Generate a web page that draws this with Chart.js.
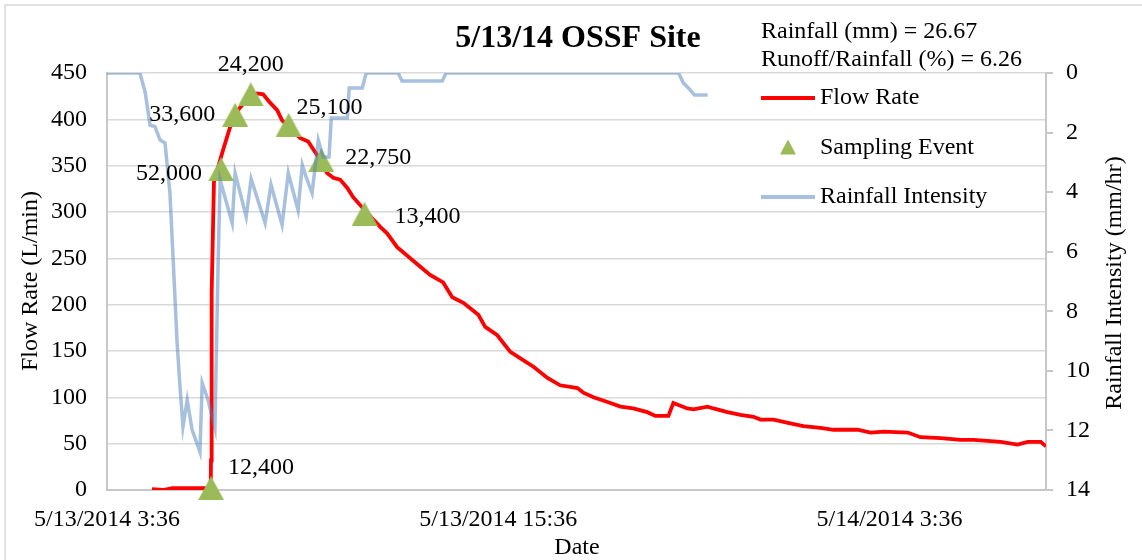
<!DOCTYPE html>
<html>
<head>
<meta charset="utf-8">
<script src="https://cdn.jsdelivr.net/npm/chart.js@4.4.1/dist/chart.umd.min.js"></script>
<style>
  html, body { margin: 0; padding: 0; background: #ffffff; }
</style>
</head>
<body>
<canvas id="chart" width="1142" height="560"></canvas>
<script>
// hours counted from 5/13/2014 00:00
const flowHours = [4.98, 5.32, 5.60, 6.24, 6.61, 6.78, 6.79, 6.81, 6.88, 7.07, 7.16, 7.38, 7.62, 7.90, 8.20, 8.39, 8.60, 8.82, 8.97, 9.52, 9.77, 10.05, 10.35, 10.54, 10.75, 10.97, 11.15, 11.58, 11.98, 12.19, 12.50, 13.21, 13.51, 13.91, 14.19, 14.53, 14.99, 15.20, 15.57, 15.97, 16.28, 16.68, 17.11, 17.50, 18.03, 18.21, 18.52, 18.95, 19.35, 19.74, 20.17, 20.42, 20.82, 20.97, 21.40, 21.59, 22.02, 22.20, 22.63, 23.03, 23.43, 23.64, 24.04, 24.56, 24.96, 25.48, 25.88, 26.62, 27.02, 27.42, 28.16, 28.55, 29.17, 29.78, 30.18, 31.01, 31.53, 31.84, 32.24, 32.40];
const flowRates = [1, 0, 2, 2, 2, 2, 32, 213, 332, 356, 367, 392, 410, 422, 428, 427, 418, 410, 399, 380, 376, 361, 342, 337, 335, 326, 316, 299, 284, 277, 262, 241, 232, 224, 208, 202, 189, 176, 167, 149, 142, 133, 121, 113, 110, 105, 100, 95, 90, 88, 84, 80, 80, 94, 88, 87, 90, 88, 84, 81, 79, 76, 76, 72, 69, 67, 65, 65, 62, 63, 62, 57, 56, 54, 54, 52, 49, 52, 52, 47];

const rainHours = [3.60, 4.61, 4.77, 4.92, 5.07, 5.23, 5.38, 5.53, 5.63, 5.75, 5.84, 5.93, 6.06, 6.21, 6.45, 6.52, 6.70, 6.91, 7.01, 7.07, 7.44, 7.53, 7.87, 8.02, 8.45, 8.63, 8.97, 9.16, 9.46, 9.59, 9.71, 9.89, 10.08, 10.23, 10.41, 10.48, 10.97, 11.03, 11.43, 11.55, 12.53, 12.65, 13.88, 14.00, 21.13, 21.28, 21.43, 21.62, 22.02];
const rainIntensity = [0, 0, 0.64, 1.75, 1.80, 2.25, 2.35, 4.03, 6.28, 9.06, 10.54, 11.88, 10.98, 11.98, 12.72, 10.41, 10.98, 11.92, 6.28, 3.59, 5.04, 3.36, 4.83, 3.55, 5.04, 3.75, 5.10, 3.36, 4.60, 3.09, 3.50, 4.03, 2.25, 2.82, 2.82, 1.51, 1.51, 0.50, 0.50, 0, 0, 0.27, 0.27, 0, 0, 0.34, 0.50, 0.74, 0.74];

const sampleHours = [6.79, 7.10, 7.53, 8.01, 9.17, 10.17, 11.50];
const sampleFlows = [2, 346, 405, 427, 394, 356, 298];
const sampleLabels = ["12,400", "52,000", "33,600", "24,200", "25,100", "22,750", "13,400"];

const xTickHours = [3.6, 15.6, 27.6];
const statLines = ["Rainfall (mm) = 26.67", "Runoff/Rainfall (%) = 6.26"];

const serif = "'Liberation Serif', 'Times New Roman', serif";
const red = "#ff0000";
const blue = "rgba(79, 129, 189, 0.5)";
const green = "#9bbb59";

// where each sample label sits relative to its marker: [dx, dy, align]
const labelPlacement = [
  [17, -20, "left"],
  [-19, 4, "right"],
  [-20, 0, "right"],
  [0, -30, "center"],
  [8, -17, "left"],
  [24, -2, "left"],
  [30, 3, "left"],
];

function triangleMarker(w, h, color) {
  const cv = document.createElement("canvas");
  cv.width = w;
  cv.height = h;
  const c = cv.getContext("2d");
  c.fillStyle = color;
  c.beginPath();
  c.moveTo(w / 2, 0);
  c.lineTo(w, h);
  c.lineTo(0, h);
  c.closePath();
  c.fill();
  return cv;
}

function hourLabel(v) {
  const day = 13 + Math.floor(v / 24);
  const rest = v - Math.floor(v / 24) * 24;
  const hr = Math.floor(rest + 1e-6);
  const min = Math.round((rest - hr) * 60);
  return `5/${day}/2014 ${hr}:${String(min).padStart(2, "0")}`;
}

const ctx = document.getElementById("chart").getContext("2d");

new Chart(ctx, {
  type: "line",
  data: {
    datasets: [
      {
        label: "Rainfall Intensity",
        data: rainHours.map((h, i) => ({ x: h, y: rainIntensity[i] })),
        yAxisID: "y1",
        borderColor: blue,
        borderWidth: 3.5,
        pointRadius: 0,
        fill: false,
        order: 0,
      },
      {
        label: "Sampling Event",
        type: "scatter",
        data: sampleHours.map((h, i) => ({ x: h, y: sampleFlows[i] })),
        yAxisID: "y",
        pointStyle: triangleMarker(26, 24, green),
        pointRadius: 13,
        backgroundColor: green,
        borderColor: green,
        borderWidth: 0,
        showLine: false,
        clip: false,
        order: 1,
      },
      {
        label: "Flow Rate",
        data: flowHours.map((h, i) => ({ x: h, y: flowRates[i] })),
        yAxisID: "y",
        borderColor: red,
        borderWidth: 3.8,
        pointRadius: 0,
        fill: false,
        order: 2,
      },
    ],
  },
  options: {
    responsive: false,
    animation: false,
    layout: { padding: { top: 73, left: 0, right: 0, bottom: 0 } },
    plugins: {
      legend: { display: false },
      title: { display: false },
      tooltip: { enabled: false },
    },
    scales: {
      x: {
        type: "linear",
        min: 3.6,
        max: 32.4,
        afterBuildTicks: (scale) => {
          scale.ticks = xTickHours.map((v) => ({ value: v }));
        },
        afterFit: (scale) => {
          scale.height = 70;
        },
        ticks: {
          callback: (v) => hourLabel(v),
          color: "#000000",
          padding: 15,
          maxRotation: 0,
          font: { family: serif, size: 24 },
        },
        grid: { drawOnChartArea: false, drawTicks: false },
        border: { color: "#c8c8c8", width: 2 },
      },
      y: {
        position: "left",
        min: 0,
        max: 450,
        afterFit: (scale) => {
          scale.width = 107;
        },
        ticks: {
          stepSize: 50,
          color: "#000000",
          padding: 20,
          font: { family: serif, size: 24 },
        },
        grid: { color: "#d9d9d9", lineWidth: 1.5, drawTicks: false },
        border: { color: "#c8c8c8", width: 2 },
      },
      y1: {
        position: "right",
        min: 0,
        max: 14,
        reverse: true,
        afterFit: (scale) => {
          scale.width = 96;
        },
        ticks: {
          stepSize: 2,
          color: "#000000",
          padding: 13,
          font: { family: serif, size: 24 },
        },
        grid: {
          drawOnChartArea: false,
          drawTicks: true,
          tickLength: 7,
          color: "#c8c8c8",
          lineWidth: 2,
        },
        border: { color: "#c8c8c8", width: 2 },
      },
    },
  },
  plugins: [
    {
      id: "background",
      beforeDraw: (chart) => {
        const c = chart.ctx;
        c.save();
        c.fillStyle = "#ffffff";
        c.fillRect(0, 0, chart.width, chart.height);
        c.strokeStyle = "#d9d9d9";
        c.lineWidth = 1.5;
        c.beginPath();
        c.moveTo(5, chart.height);
        c.lineTo(5, 5);
        c.lineTo(chart.width, 5);
        c.stroke();
        c.restore();
      },
    },
    {
      id: "annotations",
      afterDraw: (chart) => {
        const c = chart.ctx;
        c.save();
        c.fillStyle = "#000000";
        c.textBaseline = "middle";

        // title
        c.font = `bold 32px ${serif}`;
        c.textAlign = "center";
        c.fillText("5/13/14 OSSF Site", 578, 39);

        // rainfall summary
        c.font = `24px ${serif}`;
        c.textAlign = "left";
        statLines.forEach((line, i) => c.fillText(line, 761, 32 + i * 28));

        // legend
        const items = chart.data.datasets.slice().reverse();
        items.forEach((ds, i) => {
          const y = 98 + i * 49.5;
          if (ds.type === "scatter") {
            c.fillStyle = green;
            c.beginPath();
            c.moveTo(788, y - 8);
            c.lineTo(796, y + 7);
            c.lineTo(780, y + 7);
            c.closePath();
            c.fill();
          } else {
            c.strokeStyle = ds.borderColor;
            c.lineWidth = 3.8;
            c.beginPath();
            c.moveTo(761, y);
            c.lineTo(815, y);
            c.stroke();
          }
          c.fillStyle = "#000000";
          c.fillText(ds.label, 820, y);
        });

        // axis titles
        c.textAlign = "center";
        c.fillText("Date", 577, 548);
        c.save();
        c.translate(31, 281);
        c.rotate(-Math.PI / 2);
        c.fillText("Flow Rate (L/min)", 0, 0);
        c.restore();
        c.save();
        c.translate(1115, 283);
        c.rotate(-Math.PI / 2);
        c.fillText("Rainfall Intensity (mm/hr)", 0, 0);
        c.restore();

        // sample labels
        const meta = chart.getDatasetMeta(1);
        meta.data.forEach((pt, i) => {
          const [dx, dy, align] = labelPlacement[i];
          c.textAlign = align;
          c.fillText(sampleLabels[i], pt.x + dx, pt.y + dy);
        });
        c.restore();
      },
    },
  ],
});
</script>
</body>
</html>
